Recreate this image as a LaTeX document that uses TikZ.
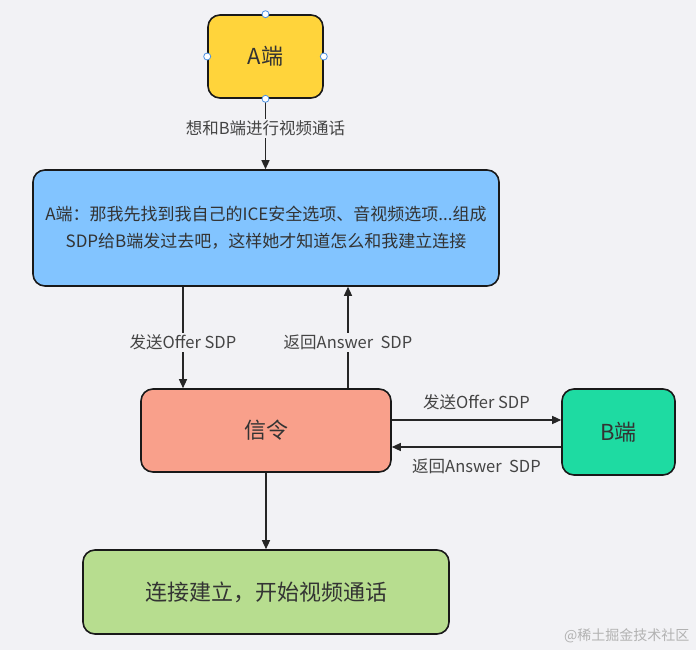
\documentclass[tikz,border=0pt]{standalone}
\usepackage{fontspec}
\setmainfont{Noto Sans CJK SC}
\usetikzlibrary{arrows.meta}
\definecolor{bg}{HTML}{F2F2F5}
\definecolor{yel}{HTML}{FFD43B}
\definecolor{blu}{HTML}{82C4FF}
\definecolor{sal}{HTML}{F9A08B}
\definecolor{teal}{HTML}{1EDBA2}
\definecolor{grn}{HTML}{B7DD8F}
\definecolor{txt}{HTML}{333333}
\definecolor{lbl}{HTML}{444444}
\definecolor{handle}{HTML}{4A90E2}
\begin{document}
\begin{tikzpicture}[x=1pt,y=-1pt,
  box/.style={draw=black!90, line width=1.6pt, rounded corners=12pt, text=txt, align=center, inner sep=0pt},
  big/.style={font=\fontsize{22}{24}\selectfont},
  conn/.style={draw=black!85, line width=1.3pt, -{Triangle[length=9pt,width=8pt]}},
  lab/.style={text=lbl, font=\fontsize{16.5}{18}\selectfont, inner sep=2pt},
  hd/.style={circle, draw=handle, fill=white, line width=0.8pt, minimum size=7pt, inner sep=0pt}]
\fill[bg] (0,0) rectangle (696,650);
\useasboundingbox (0,0) rectangle (696,650);

\node[box, big, fill=yel, minimum width=115pt, minimum height=83pt] (A) at (265.5,56.5) {A端};
\node[box, fill=blu, minimum width=466pt, minimum height=116pt, font=\fontsize{17}{27}\selectfont] (S) at (266,228) {A端：那我先找到我自己的ICE安全选项、音视频选项...组成\\SDP给B端发过去吧，这样她才知道怎么和我建立连接};
\node[box, big, fill=sal, minimum width=250pt, minimum height=83pt] (X) at (266,430.5) {信令};
\node[box, big, fill=teal, minimum width=113pt, minimum height=86pt] (B) at (618.5,432) {B端};
\node[box, big, fill=grn, minimum width=366pt, minimum height=84pt] (C) at (266,592) {连接建立，开始视频通话};

\draw[conn] (A.south) -- node[lab, fill=bg, pos=0.42] {想和B端进行视频通话} (A.south |- S.north);
\draw[conn] (S.south -| 183,0) -- node[lab, fill=bg, pos=0.55] {发送Offer SDP} (X.north -| 183,0);
\draw[conn] (X.north -| 348,0) -- node[lab, fill=bg, pos=0.45] {返回Answer\ \ SDP} (S.south -| 348,0);
\draw[conn] (X.east |- 0,420) -- node[lab, above=7pt] {发送Offer SDP} (B.west |- 0,420);
\draw[conn] (B.west |- 0,447) -- node[lab, below=9pt] {返回Answer\ \ SDP} (X.east |- 0,447);
\draw[conn] (X.south) -- (X.south |- C.north);

\node[hd] (h1) at (A.north) {};
\node[hd] (h2) at (A.south) {};
\node[hd] (h3) at (A.west) {};
\node[hd] (h4) at (A.east) {};

\node[text=black!30, font=\fontsize{14}{16}\selectfont, anchor=east] (wm) at (693,636) {@稀土掘金技术社区};
\end{tikzpicture}
\end{document}
